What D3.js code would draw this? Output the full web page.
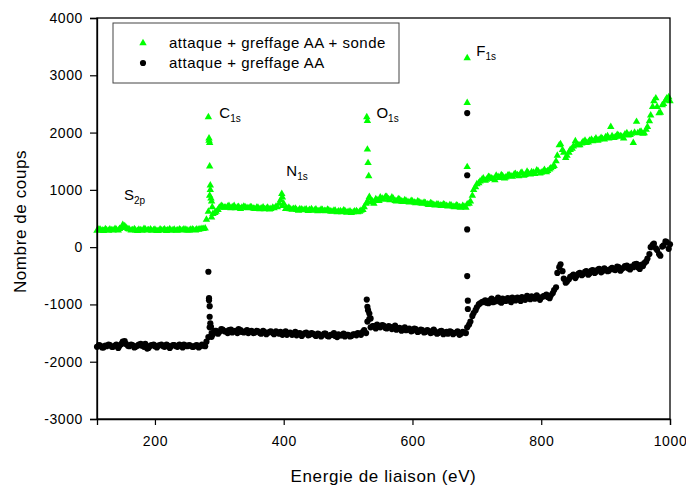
<!DOCTYPE html>
<html>
<head>
<meta charset="utf-8">
<script src="https://cdn.jsdelivr.net/npm/d3@7"></script>
<style>
  html, body { margin: 0; padding: 0; background: #fff; }
  svg { display: block; font-family: "Liberation Sans", Arial, sans-serif; }
</style>
</head>
<body>
<svg id="chart" width="686" height="485"></svg>
<script>
// ---- DATA ----
// channel set A
const energies = [
  110,115,120,125,130,135,140,145,150,155,
  160,165,170,175,180,185,190,195,200,205,
  210,215,220,225,230,235,240,245,250,255,
  260,265,270,275,280,285,290,295,300,305,
  310,315,320,325,330,335,340,345,350,355,
  360,365,370,375,380,385,390,395,400,405,
  410,415,420,425,430,435,440,445,450,455,
  460,465,470,475,480,485,490,495,500,505,
  510,515,520,525,530,535,540,545,550,555,
  560,565,570,575,580,585,590,595,600,605,
  610,615,620,625,630,635,640,645,650,655,
  660,665,670,675,680,685,690,695,700,705,
  710,715,720,725,730,735,740,745,750,755,
  760,765,770,775,780,785,790,795,800,805,
  810,815,820,825,830,835,840,845,850,855,
  860,865,870,875,880,885,890,895,900,905,
  910,915,920,925,930,935,940,945,950,955,
  960,965,970,975,980,985,990,995,1000
];

// attaque + greffage AA + sonde
const countsSonde = [
  290,305,285,300,310,295,305,320,390,340,
  310,300,295,305,290,310,300,290,305,285,
  295,310,300,290,305,295,300,310,295,305,
  300,310,315,320,480,900,580,620,690,710,
  690,720,700,680,705,690,700,680,695,670,
  690,680,665,690,670,680,700,820,760,680,
  665,670,650,665,645,660,650,640,660,635,
  650,630,645,620,640,625,610,635,615,600,
  625,610,640,700,790,780,760,820,870,830,
  880,820,850,800,830,790,810,780,800,770,
  790,760,770,740,760,730,745,720,740,710,
  730,700,720,690,710,750,800,1000,1100,1150,
  1200,1180,1220,1190,1250,1210,1240,1220,1260,1230,
  1280,1240,1300,1260,1290,1310,1280,1330,1300,1350,
  1330,1380,1420,1600,1800,1650,1600,1700,1760,1800,
  1780,1840,1820,1860,1850,1900,1880,1890,1920,1900,
  1940,1920,1950,1930,1970,1950,1980,2000,1990,2020,
  1990,2100,2300,2550,2450,2350,2500,2600,2550
];

// attaque + greffage AA
const countsAA = [
  -1740,-1720,-1750,-1730,-1710,-1740,-1700,-1720,-1650,-1690,
  -1730,-1710,-1740,-1700,-1720,-1690,-1760,-1710,-1730,-1720,
  -1700,-1740,-1720,-1730,-1710,-1740,-1720,-1700,-1730,-1720,
  -1740,-1710,-1730,-1720,-1650,-1400,-1520,-1460,-1480,-1440,
  -1470,-1450,-1490,-1460,-1430,-1480,-1470,-1500,-1460,-1490,
  -1470,-1510,-1480,-1500,-1470,-1520,-1490,-1480,-1500,-1530,
  -1490,-1510,-1540,-1500,-1520,-1490,-1530,-1510,-1550,-1520,
  -1540,-1510,-1560,-1530,-1550,-1520,-1540,-1560,-1530,-1550,
  -1520,-1500,-1530,-1450,-1300,-1400,-1380,-1350,-1400,-1370,
  -1420,-1390,-1400,-1440,-1410,-1430,-1450,-1420,-1460,-1430,
  -1470,-1450,-1480,-1460,-1490,-1470,-1500,-1460,-1490,-1510,
  -1480,-1500,-1470,-1510,-1490,-1400,-1300,-1150,-1050,-980,
  -950,-970,-930,-960,-920,-950,-900,-940,-910,-880,
  -930,-900,-870,-920,-890,-860,-900,-870,-880,-850,
  -870,-840,-750,-450,-300,-550,-600,-520,-480,-500,
  -450,-470,-420,-460,-400,-430,-380,-420,-390,-410,
  -360,-400,-350,-380,-330,-370,-340,-300,-350,-310,
  -280,-200,0,60,-50,-150,30,90,50
];

// channel set B (in between set A)
const energiesB = [
  113,118,123,128,133,138,143,148,153,158,
  163,168,173,178,183,188,193,198,203,208,
  213,218,223,228,233,238,243,248,253,258,
  263,268,273,278,283,288,293,298,303,308,
  313,318,323,328,333,338,343,348,353,358,
  363,368,373,378,383,388,393,398,403,408,
  413,418,423,428,433,438,443,448,453,458,
  463,468,473,478,483,488,493,498,503,508,
  513,518,523,528,533,538,543,548,553,558,
  563,568,573,578,583,588,593,598,603,608,
  613,618,623,628,633,638,643,648,653,658,
  663,668,673,678,683,688,693,698,703,708,
  713,718,723,728,733,738,743,748,753,758,
  763,768,773,778,783,788,793,798,803,808,
  813,818,823,828,833,838,843,848,853,858,
  863,868,873,878,883,888,893,898,903,908,
  913,918,923,928,933,938,943,948,953,958,
  963,968,973,978,983,988,993,998
];

const countsSondeB = [
  310,295,315,290,300,320,295,335,370,320,
  295,315,285,300,320,295,310,300,285,310,
  300,285,315,300,290,310,295,305,290,310,
  295,305,320,330,620,520,600,650,720,690,
  710,680,720,695,670,710,685,700,675,690,
  665,695,675,660,690,710,760,720,670,690,
  655,675,640,660,655,635,665,645,630,655,
  635,655,625,640,610,630,645,605,625,610,
  630,620,650,760,880,800,840,810,850,880,
  840,870,810,840,800,820,790,810,780,800,
  770,780,750,770,740,750,730,750,720,735,
  710,730,700,720,690,760,900,1050,1120,1180,
  1160,1230,1200,1170,1230,1260,1200,1250,1240,1270,
  1260,1290,1250,1320,1270,1300,1340,1290,1320,1310,
  1360,1400,1500,1780,1700,1560,1650,1720,1850,1780,
  1810,1860,1830,1880,1870,1860,1910,1880,1940,2100,
  1910,1960,1940,1900,1990,1960,1820,2190,2010,1980,
  2050,2200,2450,2600,2340,2480,2560,2620
];

const countsAAB = [
  -1710,-1750,-1720,-1700,-1740,-1720,-1760,-1690,-1640,-1720,
  -1700,-1750,-1720,-1690,-1740,-1770,-1720,-1700,-1750,-1710,
  -1730,-1700,-1760,-1710,-1730,-1700,-1750,-1720,-1710,-1740,
  -1720,-1750,-1700,-1730,-1570,-1500,-1460,-1510,-1430,-1470,
  -1500,-1440,-1470,-1500,-1450,-1490,-1450,-1470,-1500,-1460,
  -1500,-1460,-1520,-1480,-1500,-1470,-1510,-1530,-1470,-1500,
  -1530,-1480,-1510,-1550,-1500,-1540,-1500,-1530,-1510,-1560,
  -1510,-1550,-1530,-1500,-1570,-1540,-1510,-1530,-1560,-1520,
  -1540,-1510,-1480,-1500,-1250,-1380,-1420,-1390,-1360,-1410,
  -1380,-1430,-1370,-1420,-1460,-1400,-1440,-1470,-1420,-1480,
  -1440,-1490,-1450,-1500,-1440,-1510,-1470,-1520,-1480,-1470,
  -1520,-1490,-1530,-1480,-1500,-1350,-1200,-1100,-1000,-960,
  -930,-980,-900,-950,-880,-970,-930,-890,-960,-900,
  -880,-940,-890,-850,-910,-880,-840,-920,-860,-830,
  -890,-800,-700,-350,-420,-620,-560,-500,-540,-460,
  -490,-430,-480,-410,-450,-390,-440,-370,-420,-380,
  -390,-340,-410,-360,-320,-390,-350,-290,-380,-330,
  -250,-120,40,-20,-120,10,100,-30
];

// peak points (several channels at nearly the same energy)
const peakEnergySonde = [283,284,284,285,285,286,286,287,288,289, 397,398, 529,530,530,531,532,533, 685,685,685];
const peakCountSonde  = [2270,1900,1860,1820,1410,1080,1000,850,800,700, 930,870, 2270,2205,1705,1470,1240,855, 3300,2520,1400];

const peakEnergyAA = [283,284,284,285,285,286,287,288, 529,530,531,533,535, 685,685,685,685,686,686];
const peakCountAA  = [-430,-890,-925,-1030,-1215,-1330,-1390,-1565, -915,-1040,-1100,-1160,-1245, 2340,1255,310,-505,-935,-1080];

const xTicks = [200, 400, 600, 800, 1000];
const yTicks = [-3000, -2000, -1000, 0, 1000, 2000, 3000, 4000];
const seriesNames = ["attaque + greffage AA + sonde", "attaque + greffage AA"];

const peakLabels = [
  { main: "S", sub: "2p", e: 152, c: 820 },
  { main: "C", sub: "1s", e: 300, c: 2250 },
  { main: "N", sub: "1s", e: 404, c: 1240 },
  { main: "O", sub: "1s", e: 544, c: 2250 },
  { main: "F", sub: "1s", e: 699, c: 3330 }
];

// ---- CHART ----
const svg = d3.select("#chart");
const x = d3.scaleLinear().domain([110, 1000]).range([97, 670]);
const y = d3.scaleLinear().domain([-3000, 4000]).range([419, 18]);

const pts = (es, cs) => es.map((e, i) => [e, cs[i]]);
const green = pts(energies, countsSonde)
  .concat(pts(energiesB, countsSondeB))
  .concat(pts(peakEnergySonde, peakCountSonde));
const black = pts(energies, countsAA)
  .concat(pts(energiesB, countsAAB))
  .concat(pts(peakEnergyAA, peakCountAA));

const tri = d3.symbol().type(d3.symbolTriangle).size(24);
const circ = d3.symbol().type(d3.symbolCircle).size(30);

svg.append("g").selectAll("path").data(black).join("path")
  .attr("d", circ)
  .attr("transform", d => `translate(${x(d[0])},${y(d[1])})`)
  .attr("fill", "#000");

svg.append("g").selectAll("path").data(green).join("path")
  .attr("d", tri)
  .attr("transform", d => `translate(${x(d[0])},${y(d[1])})`)
  .attr("fill", "#00ff00");

// frame
svg.append("rect")
  .attr("x", x.range()[0]).attr("y", y.range()[1])
  .attr("width", x.range()[1] - x.range()[0])
  .attr("height", y.range()[0] - y.range()[1])
  .attr("fill", "none").attr("stroke", "#000").attr("stroke-width", 1.3);

// axes
const xAxis = svg.append("g").attr("transform", `translate(0,${y.range()[0]})`)
  .call(d3.axisBottom(x).tickValues(xTicks).tickSize(6).tickPadding(11).tickFormat(d3.format("d")));
const yAxis = svg.append("g").attr("transform", `translate(${x.range()[0]},0)`)
  .call(d3.axisLeft(y).tickValues(yTicks).tickSize(7).tickPadding(7).tickFormat(d3.format("d")));
[xAxis, yAxis].forEach(a => {
  a.select(".domain").attr("stroke", "#000").attr("stroke-width", 1.3);
  a.selectAll(".tick line").attr("stroke", "#000").attr("stroke-width", 1.2);
  a.selectAll(".tick text").attr("font-size", 14).attr("fill", "#000")
    .attr("letter-spacing", "0.6px")
    .attr("font-family", "'Liberation Sans', Arial, sans-serif");
});
yAxis.selectAll(".tick text").text(d => d < 0 ? "-" + Math.abs(d) : d);

// axis titles
svg.append("text").attr("x", (x.range()[0] + x.range()[1]) / 2).attr("y", 482)
  .attr("text-anchor", "middle").attr("font-size", 17).attr("letter-spacing", "0.6px").attr("fill", "#000")
  .text("Energie de liaison (eV)");
svg.append("text")
  .attr("transform", `translate(26,${(y.range()[0] + y.range()[1]) / 2 + 3}) rotate(-90)`)
  .attr("text-anchor", "middle").attr("font-size", 17).attr("letter-spacing", "0.6px").attr("fill", "#000")
  .text("Nombre de coups");

// peak labels
peakLabels.forEach(p => {
  const t = svg.append("text").attr("x", x(p.e)).attr("y", y(p.c))
    .attr("font-size", 15).attr("fill", "#000");
  t.append("tspan").text(p.main);
  t.append("tspan").attr("dy", 4).attr("font-size", 10).text(p.sub);
});

// legend
const lg = svg.append("g");
lg.append("rect").attr("x", 113).attr("y", 23).attr("width", 286).attr("height", 60)
  .attr("fill", "#fff").attr("stroke", "#444").attr("stroke-width", 1);
lg.append("path").attr("d", tri).attr("transform", "translate(143,43)").attr("fill", "#00ff00");
lg.append("path").attr("d", circ).attr("transform", "translate(143,63)").attr("fill", "#000");
lg.append("text").attr("x", 169).attr("y", 48).attr("font-size", 15).attr("letter-spacing", "0.5px").attr("fill", "#000").text(seriesNames[0]);
lg.append("text").attr("x", 169).attr("y", 68).attr("font-size", 15).attr("letter-spacing", "0.5px").attr("fill", "#000").text(seriesNames[1]);
</script>
</body>
</html>
